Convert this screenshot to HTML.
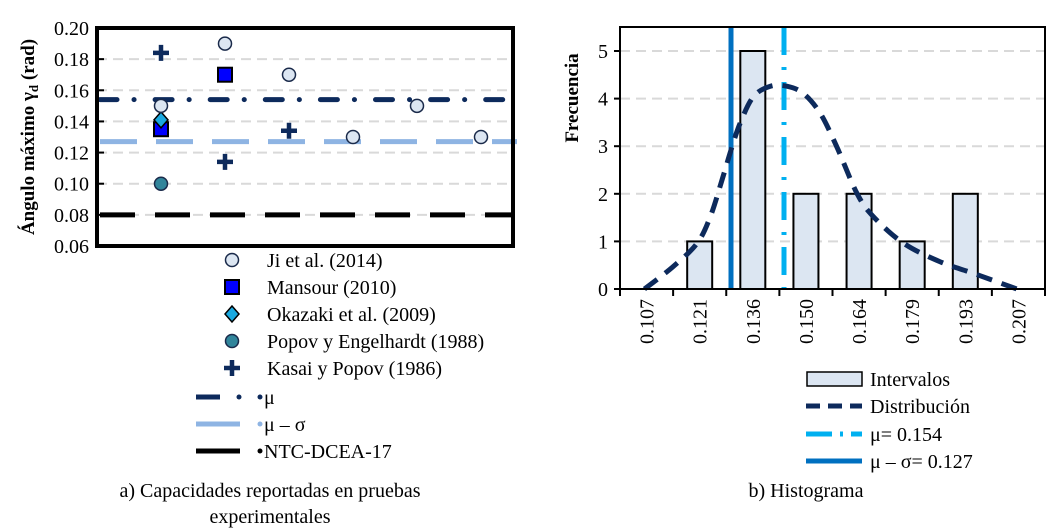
<!DOCTYPE html>
<html><head><meta charset="utf-8"><style>
body{margin:0;background:#fff;}
svg{display:block;}
svg text{font-family:"Liberation Serif","DejaVu Serif",serif;}
</style></head><body>
<svg id="svg" width="1062" height="530" viewBox="0 0 1062 530"></svg>
<script>
// ---- Left chart data ----
const cats = [1,2,3,4,5,6];
const jiVals = [0.15,0.19,0.17,0.13,0.15,0.13];
const mansourCats = [1,2];
const mansourVals = [0.135,0.17];
const okazakiCats = [1];
const okazakiVals = [0.141];
const popovCats = [1];
const popovVals = [0.10];
const kasaiCats = [1,2,3];
const kasaiVals = [0.184,0.114,0.134];
const muVal = 0.154;
const muSigVal = 0.127;
const ntcVal = 0.08;
const yTicksL = [0.06,0.08,0.10,0.12,0.14,0.16,0.18,0.20];
// ---- Right chart data ----
const binLabels = ["0.107","0.121","0.136","0.150","0.164","0.179","0.193","0.207"];
const binFreq = [0,1,5,2,2,1,2,0];
const yTicksR = [0,1,2,3,4,5];
const distPos = [-0.04,0.5,0.95,1.2,1.42,1.59,1.76,2.01,2.33,2.64,2.95,3.27,3.58,3.96,4.27,4.84,5.53,6.15,6.97];
const distFreq = [0,0.47,0.96,1.52,2.29,2.92,3.48,4.04,4.26,4.26,4.11,3.69,2.99,2.01,1.52,0.96,0.57,0.33,0];
const muR = 0.154, muSigR = 0.127;

const NS="http://www.w3.org/2000/svg";
const svg=document.getElementById('svg');
function mk(tag,attrs,parent){const e=document.createElementNS(NS,tag);for(const k in attrs)e.setAttribute(k,attrs[k]);(parent||svg).appendChild(e);return e;}
function txt(s,attrs){attrs['font-family']='Liberation Serif, DejaVu Serif, serif';const e=mk('text',attrs);e.textContent=s;return e;}

// ---- Left axes ----
const L={x0:97,x1:513,y0:28,y1:246};
const xL=c=>L.x0+c*((L.x1-L.x0)/6.5);
const yL=v=>L.y1-(v-0.06)/(0.14)*(L.y1-L.y0);
yTicksL.forEach(v=>{
  if(v>0.06&&v<0.2){const g=mk('line',{x1:L.x0,x2:L.x1,y1:yL(v),y2:yL(v),stroke:'#d9d9d9','stroke-width':2,'stroke-dasharray':'10,6'});
  
  }
  mk('line',{x1:L.x0,x2:L.x0+7,y1:yL(v),y2:yL(v),stroke:'#000','stroke-width':2});
  const l=txt(v.toFixed(2),{x:L.x0-8,y:yL(v)+7,'text-anchor':'end','font-size':20});
  
  
});
function hline(v,color,w,dash,name,xa,xb,cap){const e=mk('line',{x1:xa,x2:xb,y1:yL(v),y2:yL(v),stroke:color,'stroke-width':w,'stroke-dasharray':dash,'stroke-linecap':cap||'butt'});
  }
hline(ntcVal,'#000',5,'35,20','ntc-line',L.x0+3,L.x1);
hline(muSigVal,'#8eb4e3',5,'37,19','mu-sigma-line',L.x0+3,517);
hline(muVal,'#0d2a5c',5,'17,17,0.1,21','mu-line',L.x0+3,505,'round');
const bl=mk('rect',{x:L.x0,y:L.y0,width:L.x1-L.x0,height:L.y1-L.y0,fill:'none',stroke:'#000','stroke-width':4});

function circle(x,y,fill,name){const e=mk('circle',{cx:x,cy:y,r:6.5,fill:fill,stroke:'#1a2a4a','stroke-width':1.5});}
function square(x,y,name){const e=mk('rect',{x:x-7,y:y-7,width:14,height:14,fill:'#0000ff',stroke:'#000','stroke-width':2});}
function diamond(x,y,name){const e=mk('polygon',{points:`${x},${y-8} ${x+7},${y} ${x},${y+8} ${x-7},${y}`,fill:'#1aa9e0',stroke:'#000','stroke-width':1.5});}
function plus(x,y,name){const e=mk('path',{d:`M${x-8},${y}H${x+8}M${x},${y-8}V${y+8}`,stroke:'#0d2a5c','stroke-width':4.5});}
popovCats.forEach((c,i)=>circle(xL(c),yL(popovVals[i]),'#31859b','point-popov'));
mansourCats.forEach((c,i)=>square(xL(c),yL(mansourVals[i]),'point-mansour'));
okazakiCats.forEach((c,i)=>diamond(xL(c),yL(okazakiVals[i]),'point-okazaki'));
cats.forEach((c,i)=>circle(xL(c),yL(jiVals[i]),'#dce6f2','point-ji'));
kasaiCats.forEach((c,i)=>plus(xL(c),yL(kasaiVals[i]),'point-kasai'));
const yt=txt('Ángulo máximo γ',{transform:'translate(34,137) rotate(-90)','text-anchor':'middle','font-size':19,'font-weight':'bold'});
const sub=mk('tspan',{'font-size':13,dy:4},yt);sub.textContent='d';
const rad=mk('tspan',{dy:-4},yt);rad.textContent=' (rad)';

// left legend
const legY=[260,287,314,341,368,397,424,451];
const legT=['Ji et al. (2014)','Mansour (2010)','Okazaki et al. (2009)','Popov y Engelhardt (1988)','Kasai y Popov (1986)','μ','μ – σ','NTC-DCEA-17'];
circle(232,legY[0],'#dce6f2','legend-marker-ji');
square(232,legY[1],'legend-marker-mansour');
diamond(232,legY[2],'legend-marker-okazaki');
circle(232,legY[3],'#31859b','legend-marker-popov');
plus(232,legY[4],'legend-marker-kasai');
[['#0d2a5c'],['#8eb4e3'],['#000']].forEach((c,i)=>{const y=legY[5+i];
  const e=mk('line',{x1:196,x2:240,y1:y,y2:y,stroke:c[0],'stroke-width':5});
  if(i==0){mk('rect',{x:196,y:y-4,width:50,height:8,fill:'#fff'});mk('line',{x1:196,x2:220,y1:y,y2:y,stroke:c[0],'stroke-width':5});mk('circle',{cx:239,cy:y,r:2.5,fill:c[0]});}
  mk('circle',{cx:260,cy:y,r:2.5,fill:c[0]});});
legT.forEach((s,i)=>{const e=txt(s,{x:i<5?267:264,y:legY[i]+7,'font-size':20});});
let c1=txt('a) Capacidades reportadas en pruebas',{x:270,y:497,'text-anchor':'middle','font-size':20});

let c2=txt('experimentales',{x:270,y:523,'text-anchor':'middle','font-size':20});


// ---- Right chart ----
const R={x0:620,x1:1045,y0:27,y1:289};
const bw=(R.x1-R.x0)/8;
const xR=i=>R.x0+bw*(i+0.5);
const yR=f=>R.y1-f*47.6;
const xV=v=>731+(v-0.127)*(53/0.027);
yTicksR.forEach(f=>{
  if(f>0){const g=mk('line',{x1:R.x0,x2:R.x1,y1:yR(f),y2:yR(f),stroke:'#d9d9d9','stroke-width':2,'stroke-dasharray':'10,6'});
  }
  mk('line',{x1:R.x0-6,x2:R.x0,y1:yR(f),y2:yR(f),stroke:'#000','stroke-width':2});
  const l=txt(String(f),{x:R.x0-12,y:yR(f)+7,'text-anchor':'end','font-size':20});
  
});
for(let i=0;i<=8;i++)mk('line',{x1:R.x0+bw*i,x2:R.x0+bw*i,y1:R.y1,y2:R.y1+7,stroke:'#000','stroke-width':2});
binFreq.forEach((f,i)=>{if(f>0){const b=mk('rect',{x:xR(i)-12.5,y:yR(f),width:25,height:f*47.6,fill:'#dce6f2',stroke:'#000','stroke-width':2});
  }});
binLabels.forEach((s,i)=>{const l=txt(s,{transform:`translate(${xR(i)+7},${R.y1+10}) rotate(-90)`,'text-anchor':'end','font-size':20});
  });
const ms=mk('line',{x1:xV(muSigR),x2:xV(muSigR),y1:R.y0,y2:R.y1,stroke:'#0070c0','stroke-width':5});

const mu=mk('line',{x1:xV(muR),x2:xV(muR),y1:R.y0,y2:R.y1,stroke:'#00b0f0','stroke-width':5,'stroke-dasharray':'28,12,3,12'});

const pts=distPos.map((p,i)=>[xR(p),yR(distFreq[i])]);
let d=`M${pts[0][0]},${pts[0][1]}`;
for(let i=0;i<pts.length-1;i++){const p0=pts[Math.max(0,i-1)],p1=pts[i],p2=pts[i+1],p3=pts[Math.min(pts.length-1,i+2)];
  d+=`C${p1[0]+(p2[0]-p0[0])/6},${p1[1]+(p2[1]-p0[1])/6} ${p2[0]-(p3[0]-p1[0])/6},${p2[1]-(p3[1]-p1[1])/6} ${p2[0]},${p2[1]}`;}
const dc=mk('path',{d:d,fill:'none',stroke:'#0d2a5c','stroke-width':5,'stroke-dasharray':'16,10'});

const br=mk('rect',{x:R.x0,y:R.y0,width:R.x1-R.x0,height:R.y1-R.y0,fill:'none',stroke:'#000','stroke-width':2});

const yr=txt('Frecuencia',{transform:'translate(578,98) rotate(-90)','text-anchor':'middle','font-size':19,'font-weight':'bold'});

const rl=[379,406,434,461];
const lr1=mk('rect',{x:807,y:372,width:55,height:14,fill:'#dce6f2',stroke:'#000','stroke-width':1.5});

[['#0d2a5c','14,8'],['#00b0f0','26,8,3,8'],['#0070c0','none']].forEach((c,i)=>{
  const e=mk('line',{x1:806,x2:862,y1:rl[i+1],y2:rl[i+1],stroke:c[0],'stroke-width':5,'stroke-dasharray':c[1]});
  });
['Intervalos','Distribución','μ= 0.154','μ – σ= 0.127'].forEach((s,i)=>{const e=txt(s,{x:870,y:rl[i]+7,'font-size':20});
  });
const c3=txt('b) Histograma',{x:806,y:497,'text-anchor':'middle','font-size':20});

</script>
</body></html>
